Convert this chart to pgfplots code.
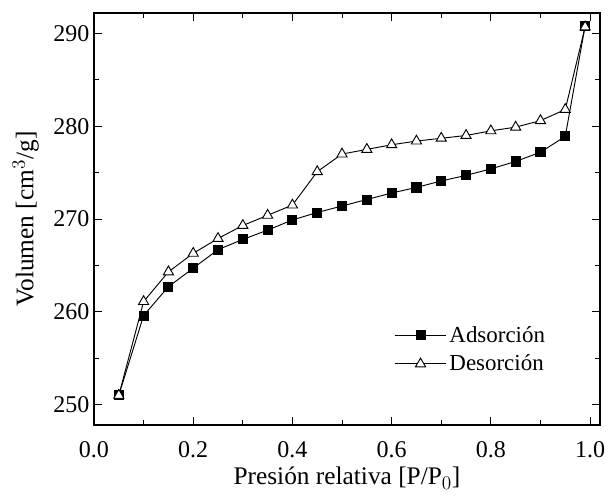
\documentclass[border=0pt]{standalone}
\usepackage{pgfplots}
\pgfplotsset{compat=1.18}
\usepackage{fontspec}
\setmainfont{Liberation Serif}
\begin{document}
\begin{tikzpicture}
\begin{axis}[
  name=ax,
  scale only axis,
  width=379.5pt, height=309pt,
  xmin=0, xmax=1.02, ymin=247.8, ymax=292.2,
  xtick={0,0.2,...,1.0},
  ytick={250,260,270,280,290},
  minor x tick num=1, minor y tick num=1,
  tick align=inside,
  major tick length=6pt, minor tick length=3.5pt,
  tick style={line width=0.7pt, black},
  axis line style={line width=1pt},
  xticklabel style={yshift=-8.5pt, /pgf/number format/.cd, fixed, fixed zerofill, precision=1},
  /pgf/number format/assume math mode=true,
  ticklabel style={font=\fontsize{18}{20}\selectfont},
  xlabel={Presión relativa [P/P$_0$]},
  ylabel={Volumen [cm$^3$/g]},
  label style={font=\fontsize{19}{22}\selectfont},
  xlabel style={yshift=-0.5pt},
  ylabel style={yshift=4pt},
  legend style={draw=none, fill=none, at={(0.585,0.253)}, anchor=north west,
    font=\fontsize{17.2}{20}\selectfont, row sep=4pt},
  legend cell align=left,
  legend image code/.code={\draw[mark repeat=2,mark phase=2] plot coordinates {(0cm,0cm) (0.68cm,0cm) (1.36cm,0cm)};},
]
\addplot[black, line width=0.7pt, mark=square*, mark size=3.4pt, mark options={fill=black}] coordinates {
(0.05,251.0) (0.1,259.6) (0.15,262.7) (0.2,264.7) (0.25,266.7) (0.3,267.8) (0.35,268.8) (0.4,269.9) (0.45,270.7) (0.5,271.4) (0.55,272.1) (0.6,272.8) (0.65,273.4) (0.7,274.1) (0.75,274.7) (0.8,275.4) (0.85,276.2) (0.9,277.2) (0.95,278.9) (0.99,290.8)
};
\addlegendentry{Adsorción}
\addplot[black, line width=0.7pt, mark=triangle*, mark size=4.4pt, mark options={fill=white}] coordinates {
(0.05,251.0) (0.1,261.1) (0.15,264.3) (0.2,266.3) (0.25,267.9) (0.3,269.3) (0.35,270.4) (0.4,271.5) (0.45,275.1) (0.5,277.0) (0.55,277.5) (0.6,278.0) (0.65,278.4) (0.7,278.7) (0.75,279.0) (0.8,279.5) (0.85,279.9) (0.9,280.6) (0.95,281.8) (0.99,290.7)
};
\addlegendentry{Desorción}
\end{axis}
\pgfresetboundingbox
\path ([xshift=-70.5pt,yshift=-53pt]ax.south west) rectangle ([xshift=8.25pt,yshift=9.75pt]ax.north east);
\end{tikzpicture}
\end{document}
